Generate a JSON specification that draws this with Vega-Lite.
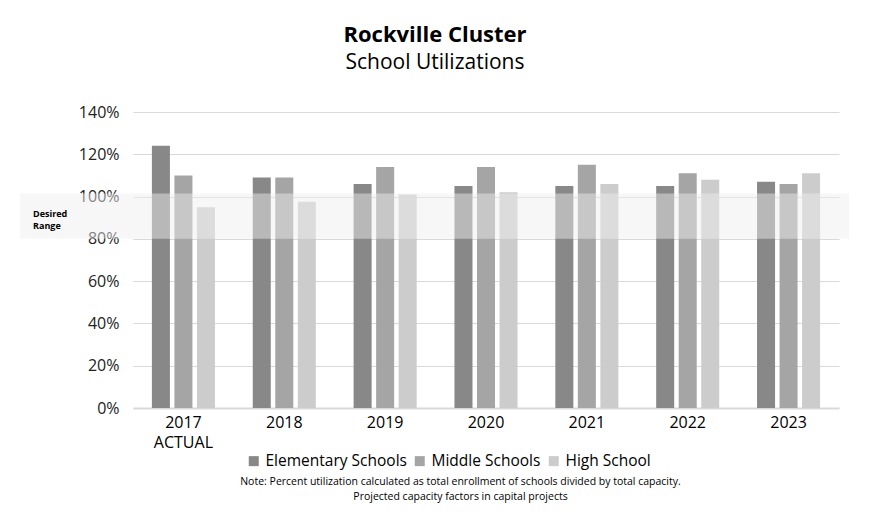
{
  "$schema": "https://vega.github.io/schema/vega-lite/v6.json",
  "width": 706,
  "height": 296,
  "autosize": {"type": "none"},
  "padding": {"left": 133, "top": 112, "right": 32, "bottom": 113},
  "background": "white",
  "config": {
    "font": "Open Sans",
    "view": {"stroke": null}
  },
  "title": {
    "text": "Rockville Cluster",
    "subtitle": "School Utilizations",
    "anchor": "middle",
    "dx": -51,
    "fontSize": 22,
    "fontWeight": "bold",
    "color": "#000000",
    "subtitleFontSize": 21,
    "subtitleColor": "#000000",
    "subtitlePadding": 5,
    "offset": 30
  },
  "datasets": {
    "bars": [
      {"year": "2017 ACTUAL", "type": "Elementary Schools", "util": 1.24},
      {"year": "2017 ACTUAL", "type": "Middle Schools", "util": 1.10},
      {"year": "2017 ACTUAL", "type": "High School", "util": 0.95},
      {"year": "2018", "type": "Elementary Schools", "util": 1.09},
      {"year": "2018", "type": "Middle Schools", "util": 1.09},
      {"year": "2018", "type": "High School", "util": 0.976},
      {"year": "2019", "type": "Elementary Schools", "util": 1.06},
      {"year": "2019", "type": "Middle Schools", "util": 1.14},
      {"year": "2019", "type": "High School", "util": 1.01},
      {"year": "2020", "type": "Elementary Schools", "util": 1.05},
      {"year": "2020", "type": "Middle Schools", "util": 1.14},
      {"year": "2020", "type": "High School", "util": 1.02},
      {"year": "2021", "type": "Elementary Schools", "util": 1.05},
      {"year": "2021", "type": "Middle Schools", "util": 1.15},
      {"year": "2021", "type": "High School", "util": 1.06},
      {"year": "2022", "type": "Elementary Schools", "util": 1.05},
      {"year": "2022", "type": "Middle Schools", "util": 1.11},
      {"year": "2022", "type": "High School", "util": 1.08},
      {"year": "2023", "type": "Elementary Schools", "util": 1.07},
      {"year": "2023", "type": "Middle Schools", "util": 1.06},
      {"year": "2023", "type": "High School", "util": 1.11}
    ],
    "band": [
      {"lo": 0.8, "hi": 1.015, "y_label": 0.918, "label": "Desired Range"}
    ]
  },
  "layer": [
    {
      "data": {"name": "bars"},
      "mark": {"type": "bar"},
      "encoding": {
        "x": {
          "field": "year",
          "type": "nominal",
          "sort": null,
          "scale": {"paddingInner": 0.33, "paddingOuter": 0.165},
          "axis": {
            "title": [
              "Note:  Percent utilization calculated as total enrollment of schools divided by total capacity.",
              "Projected capacity factors in capital projects"
            ],
            "titleFontSize": 10.5,
            "titleFontWeight": "normal",
            "titleColor": "#000000",
            "titleLineHeight": 15,
            "titlePadding": 26,
            "titleX": 327,
            "titleAlign": "center",
            "titleAnchor": null,
            "labelAngle": 0,
            "labelExpr": "split(datum.label, ' ')",
            "labelFontSize": 16,
            "labelColor": "#000000",
            "labelLineHeight": 20,
            "labelPadding": 6,
            "ticks": false,
            "domainColor": "#d9d9d9",
            "domainWidth": 2,
            "grid": false
          }
        },
        "xOffset": {
          "field": "type",
          "type": "nominal",
          "sort": ["Elementary Schools", "Middle Schools", "High School"],
          "scale": {"paddingInner": 0.2, "paddingOuter": 0.1}
        },
        "y": {
          "field": "util",
          "type": "quantitative",
          "scale": {"domain": [0, 1.4], "nice": false},
          "axis": {
            "title": null,
            "format": ".0%",
            "values": [0, 0.2, 0.4, 0.6, 0.8, 1.0, 1.2, 1.4],
            "labelFontSize": 16,
            "labelColor": "#222222",
            "labelPadding": 14,
            "ticks": false,
            "domain": false,
            "gridColor": "#d9d9d9",
            "gridWidth": 1
          }
        },
        "color": {
          "field": "type",
          "type": "nominal",
          "sort": ["Elementary Schools", "Middle Schools", "High School"],
          "scale": {
            "domain": ["Elementary Schools", "Middle Schools", "High School"],
            "range": ["#888888", "#a5a5a5", "#cccccc"]
          },
          "legend": {
            "title": null,
            "orient": "none",
            "legendX": 113,
            "legendY": 341,
            "direction": "horizontal",
            "symbolType": "square",
            "symbolSize": 100,
            "symbolStrokeWidth": 0,
            "labelFontSize": 15.5,
            "labelColor": "#000000",
            "labelOffset": 4,
            "columnPadding": 5
          }
        }
      }
    },
    {
      "data": {"name": "band"},
      "mark": {"type": "rect", "fill": "#eeeeee", "opacity": 0.47},
      "encoding": {
        "y": {"field": "lo", "type": "quantitative"},
        "y2": {"field": "hi"},
        "x": {"value": -113},
        "x2": {"value": 716}
      }
    },
    {
      "data": {"name": "band"},
      "mark": {
        "type": "text",
        "align": "left",
        "baseline": "middle",
        "fontWeight": "bold",
        "fontSize": 9,
        "lineBreak": " ",
        "lineHeight": 12,
        "color": "#000000"
      },
      "encoding": {
        "y": {"field": "y_label", "type": "quantitative"},
        "x": {"value": -100},
        "text": {"field": "label"}
      }
    }
  ]
}
